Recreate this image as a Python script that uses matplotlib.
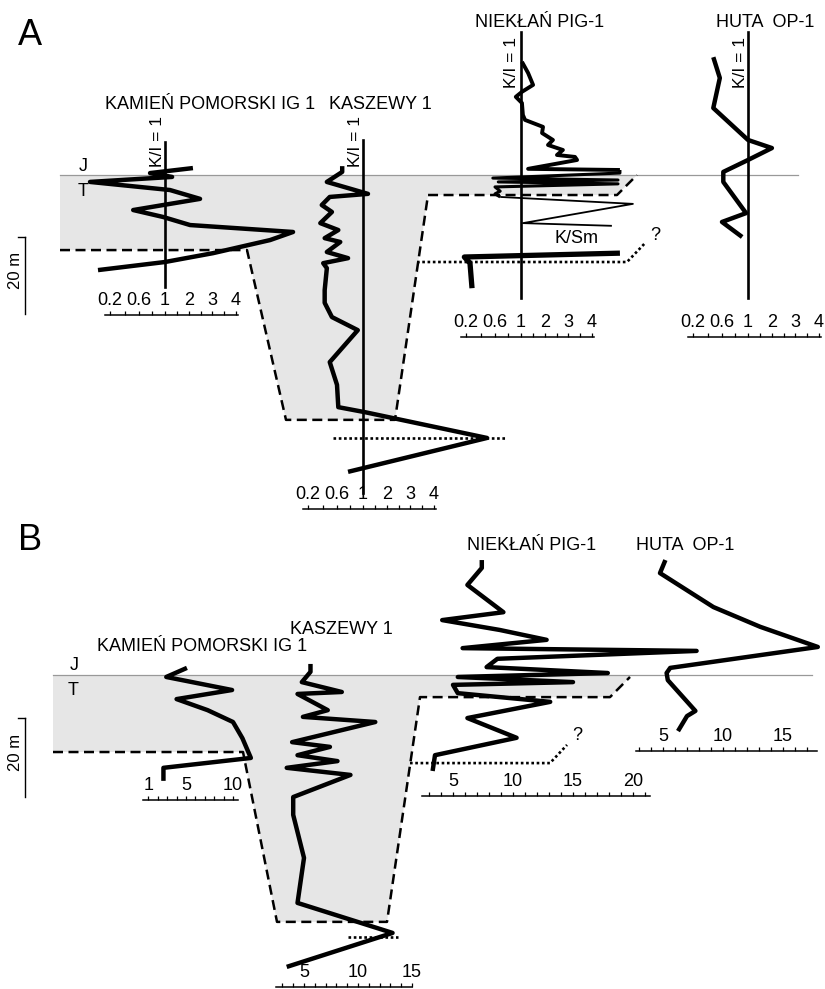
import matplotlib
matplotlib.use("Agg")
import matplotlib.pyplot as plt
import numpy as np

plt.rcParams['font.family'] = ['Liberation Sans', 'DejaVu Sans']
plt.rcParams['font.size'] = 12

W, H = 825, 989  # output size in px (dpi 100)

# ---------------- panel A : K/I ratio vs depth [m below J/T boundary] ----------------
kam_a_ki = [2.18, 0.77, 1.30, 0.08, 1.21, 2.48, 0.52, 0.97, 2.06, 6.41, 5.44, 3.03, 1.0, 0.128]
kam_a_depth = [-1.8, -0.5, 0.5, 1.8, 3.9, 6.2, 9.1, 10.9, 13.0, 14.8, 16.9, 20.3, 22.6, 24.7]

kas_a_ki = [0.68, 0.68, 0.46, 1.21, 0.50, 0.39, 0.53, 0.37, 0.62, 0.43, 0.65, 0.46, 0.77,
            0.41, 0.46, 0.43, 0.43, 0.53, 0.92, 0.50, 0.60, 0.62, 1.08, 6.24, 0.77]
kas_a_depth = [-2.3, -0.8, 1.8, 4.9, 5.7, 7.8, 9.6, 12.5, 14.3, 16.4, 17.4, 20.0, 21.6,
               22.9, 24.2, 29.9, 33.2, 36.9, 40.3, 48.6, 54.5, 60.3, 61.6, 68.3, 77.1]

# Niekłań is drawn in pieces of different line weight
nie_a_top_ki = [1.04, 1.30, 1.51, 1.04, 0.92, 1.04, 1.08, 1.17, 1.93, 1.89, 2.35, 2.14,
                2.77, 2.52, 3.28, 3.37, 1.30, 5.18]
nie_a_top_depth = [-29.4, -26.5, -23.4, -21.6, -20.3, -18.7, -15.6, -14.3, -12.5, -10.9,
                   -9.1, -7.8, -6.5, -5.2, -4.7, -3.9, -1.6, -1.3]
nie_a_comb_ki = [5.18, 5.18, 0.57, 5.10, 0.65, 5.10, 0.60, 0.68, 0.60, 0.68]
nie_a_comb_depth = [-1.3, -0.5, 0.8, 1.3, 1.8, 2.3, 3.1, 4.2, 4.9, 5.7]
nie_a_low_ki = [0.68, 5.73, 1.08, 4.84]
nie_a_low_depth = [5.7, 7.5, 12.5, 13.2]
nie_a_ksm = [5.18, 0.19, 0.255, 0.283]
nie_a_ksm_depth = [20.3, 21.3, 22.9, 29.4]

hut_a_ki = [0.48, 0.57, 0.48, 1.0, 2.01, 1.0, 0.62, 0.62, 0.97, 0.60, 0.91]
hut_a_depth = [-30.6, -25.2, -17.4, -9.1, -7.0, -3.9, -0.8, 1.8, 9.9, 12.2, 16.1]

ki_ticks = [0.2, 0.6, 1, 2, 3, 4]
ki_tick_labels = ['0.2', '0.6', '1', '2', '3', '4']
ki_minor = [0.4, 0.8, 1.5, 2.5, 3.5]

# ---------------- panel B : second proxy, same depth convention ----------------
kam_b_val = [5.1, 2.9, 9.9, 4.0, 7.3, 10.0, 11.0, 11.9, 2.6, 2.6]
kam_b_depth = [-1.8, 0.5, 3.8, 6.1, 8.9, 11.9, 16.0, 21.0, 23.5, 26.8]

kas_b_val = [5.6, 5.6, 4.8, 8.5, 4.4, 7.2, 4.9, 11.6, 3.9, 7.4, 4.4, 8.1, 3.4, 9.3,
             4.0, 4.0, 5.0, 4.4, 13.2, 3.4]
kas_b_depth = [-2.8, -0.8, 1.8, 4.3, 4.8, 8.9, 10.6, 11.9, 17.0, 18.2, 20.3, 21.8, 23.5,
               25.3, 30.9, 35.4, 46.3, 57.7, 65.3, 73.9]

nie_b_val = [7.4, 7.4, 6.2, 9.2, 4.1, 8.9, 12.8, 5.8, 25.3, 8.7, 7.8, 17.9, 5.4, 15.0,
             5.0, 5.4, 13.1, 6.2, 10.3, 3.5, 3.3]
nie_b_depth = [-29.1, -27.1, -22.8, -15.9, -13.9, -11.4, -8.9, -6.8, -6.1, -4.1, -2.0,
               -0.5, 0.5, 1.8, 2.5, 4.6, 6.8, 10.9, 15.9, 20.3, 24.3]

hut_b_val = [5.2, 4.75, 9.2, 13.1, 17.9, 5.6, 5.3, 5.4, 7.7, 7.0, 6.25]
hut_b_depth = [-29.1, -25.8, -17.2, -12.2, -7.1, -1.8, -0.5, 1.3, 9.1, 10.4, 14.2]

# K/I axis as drawn in the figure: stretched below 1, linear above 1
ki_knots = [0.0, 0.05, 0.2, 0.6, 1.0, 4.0, 25.0]
ki_px = [-160, -80, -55, -26, 0, 71, 568]


def ki_fwd(v):
    return np.interp(v, ki_knots, ki_px)


def ki_inv(p):
    return np.interp(p, ki_px, ki_knots)


fig = plt.figure(figsize=(W / 100, H / 100), dpi=100)


def make_panel(y0, y1, jt, px_per_m):
    ax = fig.add_axes([0, 1 - y1 / H, 1, (y1 - y0) / H])
    ax.set_xlim(0, W)
    ax.set_ylim((y1 - jt) / px_per_m, (y0 - jt) / px_per_m)
    ax.axis('off')
    return ax


def add_well(panel, left, right):
    pb = panel.get_position()
    ax = fig.add_axes([left / W, pb.y0, (right - left) / W, pb.height], sharey=panel)
    ax.patch.set_visible(False)
    for s in ('left', 'right', 'bottom'):
        ax.spines[s].set_visible(False)
    ax.tick_params(axis='y', left=False, labelleft=False)
    ax.tick_params(axis='x', which='both', top=True, bottom=False, labeltop=True,
                   labelbottom=False, direction='out', length=3, width=0.9, pad=1.5,
                   labelsize=13)
    return ax


def set_scale(ax, depth, lo, hi, major, labels, minor):
    sp = ax.spines['top']
    sp.set_position(('data', depth))
    sp.set_bounds(lo, hi)
    sp.set_linewidth(1.1)
    ax.set_xticks(major)
    ax.set_xticklabels(labels)
    ax.set_xticks(minor, minor=True)


def ki_well(panel, ref_px):
    ax = add_well(panel, ref_px - 130, ref_px + 150)
    ax.set_xscale('function', functions=(ki_fwd, ki_inv))
    ax.set_xlim(ki_inv(-130), ki_inv(150))
    return ax


def lin_well(panel, left, right, zero_px, px_per_unit):
    ax = add_well(panel, left, right)
    ax.set_xlim((left - zero_px) / px_per_unit, (right - zero_px) / px_per_unit)
    return ax


def curve(ax, x, y, lw=3.2):
    ax.plot(x, y, color='black', lw=lw, clip_on=False, solid_capstyle='butt')


grey = '#e6e6e6'
dash = (0, (4, 2.2))
dots = (0, (1, 1))

# ================= panel A =================
pa = make_panel(0, 520, 175, 3.85)
pa.fill([60, 637, 617, 428, 395, 286, 247, 60], [0, 0, 5.2, 5.2, 63.6, 63.6, 19.5, 19.5],
        color=grey, lw=0, zorder=0)
pa.plot([60, 798], [0, 0], color='#999999', lw=0.9)
pa.plot([60, 247, 286, 395, 428, 617, 637], [19.5, 19.5, 63.6, 63.6, 5.2, 5.2, 0],
        color='black', lw=1.8, ls=dash)
pa.plot([417, 627, 645], [22.6, 22.6, 17.7], color='black', lw=1.9, ls=dots)
pa.plot([333, 505], [68.3, 68.3], color='black', lw=1.9, ls=dots)
pa.text(655, 15.6, '?', fontsize=13, ha='center', va='center')
pa.text(577, 16.4, 'K/Sm', fontsize=13, ha='center', va='center')
pa.text(83, -2.1, 'J', fontsize=13, ha='center', va='center')
pa.text(83, 4.4, 'T', fontsize=13, ha='center', va='center')
pa.plot([25, 25], [16.1, 36.1], color='black', lw=1.0)
pa.plot([18, 25], [16.1, 16.1], color='black', lw=1.0)
pa.text(16, 24.7, '20 m', fontsize=12, rotation=90, ha='center', va='center')
pa.text(210, -18.2, 'KAMIEŃ POMORSKI IG 1', fontsize=13, ha='center', va='center')
pa.text(380, -18.2, 'KASZEWY 1', fontsize=13, ha='center', va='center')
pa.text(540, -39.5, 'NIEKŁAŃ PIG-1', fontsize=13, ha='center', va='center')
pa.text(765, -39.5, 'HUTA  OP-1', fontsize=13, ha='center', va='center')

wells_a = [
    # ref px, ref line top/bottom depth, scale depth, label bottom depth, label x
    (165, -8.6, 29.1, 36.4, -2.1, 0.89),
    (363, -9.1, 82.6, 86.8, -2.1, 0.89),
    (521, -37.1, 31.9, 42.1, -22.6, 0.86),
    (748, -37.1, 31.9, 42.1, -22.6, 0.88),
]
axa = []
for ref, top, bot, sd, lab_d, lab_x in wells_a:
    ax = ki_well(pa, ref)
    ax.plot([1, 1], [top, bot], color='black', lw=1.9)
    ax.text(lab_x, lab_d, 'K/I = 1', rotation=90, fontsize=12.5, ha='center', va='bottom')
    set_scale(ax, sd, 0.17, 4.08, ki_ticks, ki_tick_labels, ki_minor)
    axa.append(ax)

curve(axa[0], kam_a_ki, kam_a_depth)
curve(axa[1], kas_a_ki, kas_a_depth)
curve(axa[2], nie_a_top_ki, nie_a_top_depth, lw=2.8)
curve(axa[2], nie_a_comb_ki, nie_a_comb_depth, lw=2.2)
curve(axa[2], nie_a_low_ki, nie_a_low_depth, lw=1.3)
curve(axa[2], nie_a_ksm, nie_a_ksm_depth, lw=3.8)
curve(axa[3], hut_a_ki, hut_a_depth)

# ================= panel B =================
pb = make_panel(520, 989, 675, 3.95)
pb.fill([53, 632, 610, 420, 387, 277, 243, 53], [0, 0, 5.6, 5.6, 62.5, 62.5, 19.5, 19.5],
        color=grey, lw=0, zorder=0)
pb.plot([53, 812], [0, 0], color='#999999', lw=0.9)
pb.plot([53, 243, 277, 387, 420, 610, 630], [19.5, 19.5, 62.5, 62.5, 5.6, 5.6, 0.5],
        color='black', lw=1.8, ls=dash)
pb.plot([410, 550, 567], [22.3, 22.3, 17.7], color='black', lw=1.9, ls=dots)
pb.plot([348, 398], [66.3, 66.3], color='black', lw=1.9, ls=dots)
pb.text(577, 15.2, '?', fontsize=13, ha='center', va='center')
pb.text(74, -2.5, 'J', fontsize=13, ha='center', va='center')
pb.text(73, 3.8, 'T', fontsize=13, ha='center', va='center')
pb.plot([25, 25], [10.9, 30.9], color='black', lw=1.0)
pb.plot([18, 25], [10.9, 10.9], color='black', lw=1.0)
pb.text(16, 19.5, '20 m', fontsize=12, rotation=90, ha='center', va='center')
pb.text(202, -7.3, 'KAMIEŃ POMORSKI IG 1', fontsize=13, ha='center', va='center')
pb.text(341, -11.4, 'KASZEWY 1', fontsize=13, ha='center', va='center')
pb.text(532, -32.9, 'NIEKŁAŃ PIG-1', fontsize=13, ha='center', va='center')
pb.text(685, -32.9, 'HUTA  OP-1', fontsize=13, ha='center', va='center')

kb = lin_well(pb, 60, 300, 139, 9.4)
set_scale(kb, 31.6, 0.43, 10.5, [1, 5, 10], ['1', '5', '10'], list(range(1, 11)))
curve(kb, kam_b_val, kam_b_depth)

zb = lin_well(pb, 240, 460, 250, 10.8)
set_scale(zb, 79.0, 2.4, 15.0, [5, 10, 15], ['5', '10', '15'], list(range(3, 16)))
curve(zb, kas_b_val, kas_b_depth)

nb = lin_well(pb, 400, 720, 393, 12)
set_scale(nb, 30.6, 2.4, 21.4, [5, 10, 15, 20], ['5', '10', '15', '20'], list(range(3, 22)))
curve(nb, nie_b_val, nie_b_depth)

hb = lin_well(pb, 620, 825, 603, 12)
set_scale(hb, 19.2, 2.75, 17.8, [5, 10, 15], ['5', '10', '15'], list(range(3, 18)))
curve(hb, hut_b_val, hut_b_depth)

fig.text(18 / W, 1 - 45 / H, 'A', fontsize=26, ha='left', va='baseline')
fig.text(18 / W, 1 - 550 / H, 'B', fontsize=26, ha='left', va='baseline')

fig.savefig('out.png', dpi=100)
